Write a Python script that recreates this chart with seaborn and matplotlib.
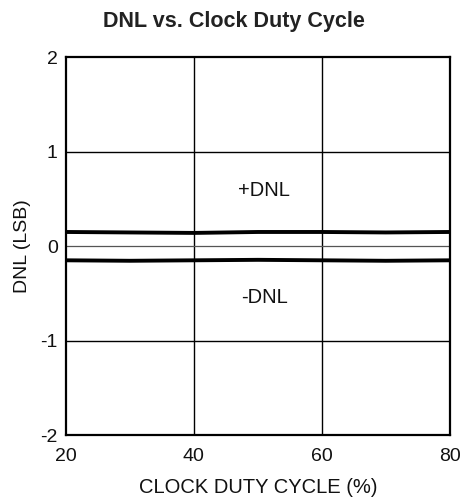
import matplotlib
matplotlib.use("Agg")
import matplotlib.pyplot as plt
import seaborn as sns
import pandas as pd

duty = [20, 30, 40, 50, 60, 70, 80]
pos_dnl = [0.15, 0.145, 0.14, 0.15, 0.15, 0.145, 0.15]
neg_dnl = [-0.15, -0.155, -0.15, -0.145, -0.15, -0.155, -0.15]
x_ticks = [20, 40, 60, 80]
y_ticks = [-2, -1, 0, 1, 2]

df = pd.DataFrame({"duty": duty * 2,
                   "dnl": pos_dnl + neg_dnl,
                   "series": ["+DNL"] * len(duty) + ["-DNL"] * len(duty)})

sns.set_theme(style="white")
plt.rcParams['font.family'] = ['Liberation Sans', 'DejaVu Sans']
plt.rcParams['axes.unicode_minus'] = False

fig = plt.figure(figsize=(4.63, 5.01), dpi=100)
ax = fig.add_axes([0.1425, 0.1317, 0.829, 0.754])

for x in [40, 60]:
    ax.axvline(x, color="black", lw=1.0, zorder=1)
for y in [-1, 1]:
    ax.axhline(y, color="black", lw=1.0, zorder=1)
ax.axhline(0, color="#555555", lw=0.9, zorder=1)

sns.lineplot(data=df, x="duty", y="dnl", units="series", estimator=None,
             color="black", lw=2.8, ax=ax, legend=False, zorder=3)

ax.set_xlim(20, 80)
ax.set_ylim(-2, 2)
ax.set_xticks(x_ticks)
ax.set_yticks(y_ticks)
ax.tick_params(axis="both", length=0, labelsize=14, colors="#111111")
ax.tick_params(axis="x", pad=9)
ax.tick_params(axis="y", pad=6)
for s in ax.spines.values():
    s.set_color("black")
    s.set_linewidth(1.6)

ax.set_xlabel("CLOCK DUTY CYCLE (%)", fontsize=14.5, color="#111111", labelpad=10)
ax.set_ylabel("DNL (LSB)", fontsize=14, color="#111111", labelpad=7)
fig.suptitle("DNL vs. Clock Duty Cycle", fontsize=15.5, fontweight="bold",
             color="#222222", x=0.505, y=0.978)

ax.text(51, 0.59, "+DNL", fontsize=14.5, ha="center", va="center", color="#111111")
ax.text(51, -0.54, "-DNL", fontsize=14.5, ha="center", va="center", color="#111111")

fig.savefig("out.png", dpi=100)
